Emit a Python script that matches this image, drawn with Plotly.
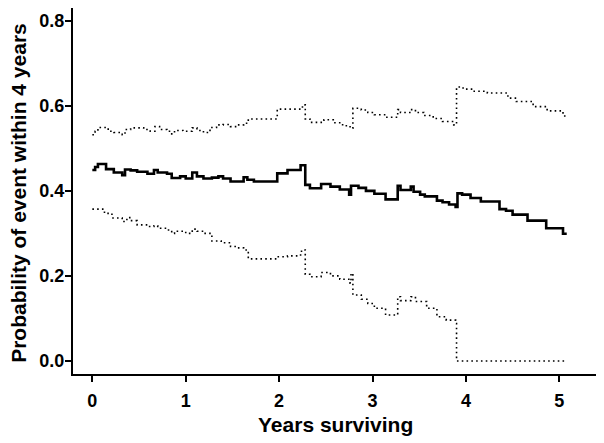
import plotly.graph_objects as go

# Estimate (solid)
est_t = [0, 0.03, 0.06, 0.147, 0.23, 0.32, 0.35, 0.41, 0.48, 0.59, 0.66, 0.70, 0.80, 0.85, 0.94, 1.00,
         1.07, 1.12, 1.19, 1.28, 1.35, 1.40, 1.48, 1.62, 1.66, 1.73, 1.98, 2.09, 2.23, 2.28, 2.33, 2.45,
         2.55, 2.65, 2.75, 2.77, 2.85, 2.93, 3.02, 3.14, 3.27, 3.30, 3.41, 3.44, 3.51, 3.56, 3.69, 3.75,
         3.82, 3.89, 3.91, 3.96, 4.05, 4.16, 4.36, 4.43, 4.50, 4.66, 4.86, 5.04, 5.08]
est_v = [0.449, 0.456, 0.463, 0.451, 0.443, 0.437, 0.450, 0.448, 0.445, 0.440, 0.449, 0.443, 0.440, 0.430, 0.434, 0.429,
         0.443, 0.434, 0.429, 0.431, 0.434, 0.429, 0.422, 0.432, 0.426, 0.422, 0.441, 0.449, 0.460, 0.414, 0.406, 0.416,
         0.410, 0.403, 0.391, 0.412, 0.407, 0.400, 0.393, 0.380, 0.412, 0.402, 0.410, 0.398, 0.391, 0.387, 0.377, 0.373,
         0.368, 0.362, 0.394, 0.391, 0.383, 0.375, 0.357, 0.353, 0.344, 0.330, 0.312, 0.299, 0.299]

# Upper confidence bound (dotted)
upper_t = [0, 0.03, 0.06, 0.17, 0.23, 0.32, 0.35, 0.41, 0.55, 0.62, 0.67, 0.72, 0.80, 0.85, 0.88, 0.97,
           1.07, 1.12, 1.19, 1.26, 1.33, 1.40, 1.48, 1.55, 1.62, 1.67, 1.98, 2.25, 2.28, 2.33, 2.48, 2.58,
           2.68, 2.76, 2.79, 2.88, 2.95, 3.02, 3.14, 3.27, 3.30, 3.41, 3.46, 3.55, 3.65, 3.75, 3.87, 3.90,
           3.97, 4.07, 4.23, 4.45, 4.54, 4.72, 4.87, 5.04, 5.08]
upper_v = [0.532, 0.540, 0.549, 0.540, 0.537, 0.532, 0.544, 0.548, 0.544, 0.540, 0.551, 0.544, 0.540, 0.534, 0.542, 0.540,
           0.548, 0.542, 0.537, 0.549, 0.555, 0.556, 0.551, 0.555, 0.559, 0.569, 0.592, 0.602, 0.569, 0.561, 0.567, 0.560,
           0.553, 0.547, 0.594, 0.590, 0.584, 0.579, 0.573, 0.591, 0.584, 0.591, 0.584, 0.577, 0.570, 0.563, 0.555, 0.644,
           0.639, 0.634, 0.630, 0.618, 0.610, 0.598, 0.588, 0.576, 0.576]

# Lower confidence bound (dotted)
lower_t = [0, 0.13, 0.21, 0.32, 0.37, 0.41, 0.48, 0.59, 0.66, 0.70, 0.80, 0.85, 0.88, 1.00, 1.07, 1.12,
           1.19, 1.28, 1.38, 1.48, 1.55, 1.62, 1.67, 1.98, 2.09, 2.20, 2.24, 2.28, 2.33, 2.45, 2.55, 2.65,
           2.76, 2.77, 2.79, 2.88, 2.95, 3.02, 3.14, 3.27, 3.30, 3.41, 3.46, 3.58, 3.69, 3.79, 3.89, 3.90, 5.08]
lower_v = [0.357, 0.347, 0.336, 0.328, 0.337, 0.330, 0.320, 0.316, 0.318, 0.312, 0.308, 0.300, 0.305, 0.300, 0.310, 0.305,
           0.300, 0.282, 0.278, 0.269, 0.266, 0.261, 0.240, 0.245, 0.247, 0.249, 0.261, 0.204, 0.198, 0.208, 0.200, 0.192,
           0.183, 0.206, 0.155, 0.145, 0.135, 0.124, 0.108, 0.151, 0.142, 0.151, 0.140, 0.124, 0.104, 0.096, 0.088, 0.0, 0.0]

x_ticks = [0, 1, 2, 3, 4, 5]
y_ticks = [0.0, 0.2, 0.4, 0.6, 0.8]
y_tick_labels = ["0.0", "0.2", "0.4", "0.6", "0.8"]

fig = go.Figure()
dot_style = dict(color="black", width=1.6, dash="1.6px,3.2px")
fig.add_trace(go.Scatter(x=upper_t, y=upper_v, mode="lines", line_shape="hv", line=dot_style, hoverinfo="skip"))
fig.add_trace(go.Scatter(x=lower_t, y=lower_v, mode="lines", line_shape="hv", line=dot_style, hoverinfo="skip"))
fig.add_trace(go.Scatter(x=est_t, y=est_v, mode="lines", line_shape="hv",
                         line=dict(color="black", width=2.6), hoverinfo="skip"))

font_family = "Liberation Sans, Arial, sans-serif"
axis_common = dict(showgrid=False, zeroline=False, showline=True, linecolor="black", linewidth=2,
                   ticks="outside", ticklen=6, tickwidth=2, tickcolor="black",
                   tickfont=dict(family=font_family, size=18, color="black", weight="bold"))

# The page body has an 8px default margin, so the figure is sized to fill the rest of the window.
fig.update_layout(
    width=596, height=435,
    margin=dict(l=65, r=7, t=0, b=69),
    paper_bgcolor="white", plot_bgcolor="white",
    showlegend=False,
    xaxis=dict(range=[-0.207, 5.404], tickvals=x_ticks, ticklabelstandoff=3, **axis_common),
    yaxis=dict(range=[-0.0306, 0.8298], tickvals=y_ticks, ticktext=y_tick_labels, ticklabelstandoff=-3, **axis_common),
    annotations=[
        dict(text="<b>Years surviving</b>", xref="paper", yref="paper", x=0.5, y=-0.1385,
             xanchor="center", yanchor="middle", showarrow=False,
             font=dict(family=font_family, size=21, color="black")),
        dict(text="<b>Probability of event within 4 years</b>", xref="paper", yref="paper", x=-0.103, y=0.495,
             xanchor="center", yanchor="middle", textangle=-90, showarrow=False,
             font=dict(family=font_family, size=21, color="black")),
    ],
)

fig.write_html("out.html")
